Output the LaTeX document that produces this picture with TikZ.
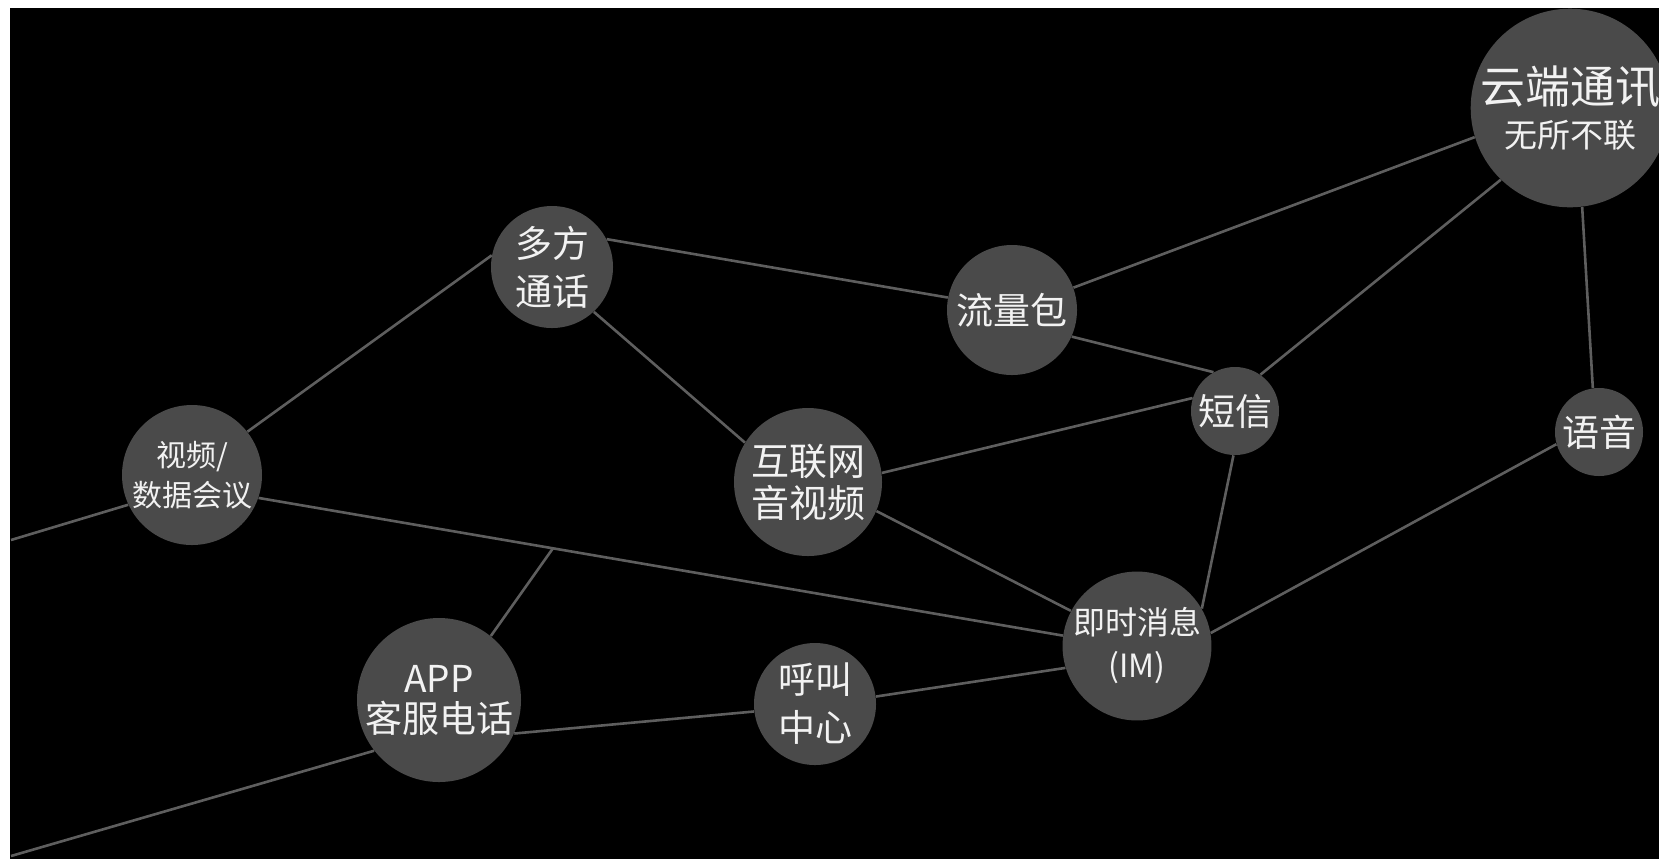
\documentclass[tikz,border=0pt]{standalone}
\usepackage{fontspec}
\setmainfont{Noto Sans CJK SC}
\usetikzlibrary{calc}
\definecolor{bubble}{HTML}{4A4A4A}
\definecolor{wirec}{HTML}{5E5E5E}
\definecolor{labelc}{HTML}{F2F2F2}
\begin{document}
\begin{tikzpicture}[x=0.5pt, y=-0.5pt,
  bub/.style={circle, fill=bubble, text=labelc, inner sep=0pt, align=center,
    font=\fontsize{18.5}{24}\selectfont},
  wire/.style={draw=wirec, line width=1.3pt}]
\useasboundingbox (0,0) rectangle (1659,859);
\clip (0,0) rectangle (1659,859);
\fill[white] (0,0) rectangle (1659,859);
\fill[black] (10,8) rectangle (1659,859);

\node[bub, minimum size=97pt, font=\fontsize{16.5}{22}\selectfont] (yun) at (1570,108)
  {{\fontsize{22.5}{22}\selectfont 云端通讯}\\无所不联};
\node[bub, minimum size=61pt] (duofang) at (552,267) {多方\\通话};
\node[bub, minimum size=65pt] (liuliang) at (1012,310) {流量包};
\node[bub, minimum size=44pt] (duanxin) at (1235,411) {短信};
\node[bub, minimum size=44pt] (yuyin) at (1599,432) {语音};
\node[bub, minimum size=70pt, font=\fontsize{15}{20}\selectfont] (shipin) at (192,475) {视频/\\数据会议};
\node[bub, minimum size=74pt, font=\fontsize{19}{21}\selectfont] (hulian) at (808,482) {互联网\\音视频};
\node[bub, minimum size=69pt, font=\fontsize{16}{21.5}\selectfont] (im) at (1137,646) {即时消息\\(IM)};
\node[bub, minimum size=82pt, font=\fontsize{18.5}{20}\selectfont] (app) at (439,700) {APP\\客服电话};
\node[bub, minimum size=61pt] (hujiao) at (815,704) {呼叫\\中心};

\coordinate (leftA) at (11,540);
\coordinate (leftB) at (11,856);
\coordinate (j) at ($(shipin.341)!0.366!(im.172)$);

\draw[wire] (leftA) -- (shipin.205);
\draw[wire] (shipin.38) -- (duofang.169);
\draw[wire] (duofang.27) -- (liuliang.169);
\draw[wire] (duofang.313) -- (hulian.148);
\draw[wire] (liuliang.20) -- (yun.197);
\draw[wire] (liuliang.336) -- (duanxin.119);
\draw[wire] (duanxin.55) -- (yun.226);
\draw[wire] (hulian.7) -- (duanxin.163);
\draw[wire] (hulian.337) -- (im.152);
\draw[wire] (duanxin.268) -- (im.30);
\draw[wire] (im.10) -- (yuyin.196);
\draw[wire] (yuyin.98) -- (yun.277);
\draw[wire] (shipin.341) -- (im.172);
\draw[wire] (app.51) -- (j);
\draw[wire] (app.336) -- (hujiao.187);
\draw[wire] (hujiao.7) -- (im.197);
\draw[wire] (app.218) -- (leftB);
\end{tikzpicture}
\end{document}
